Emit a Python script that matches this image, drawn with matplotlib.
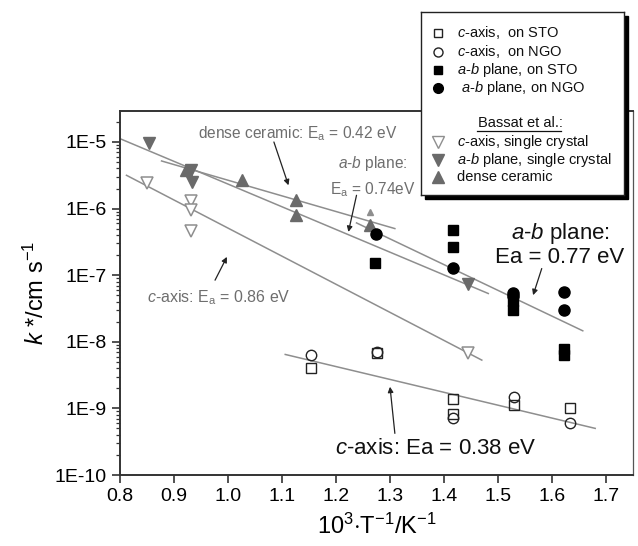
import matplotlib
matplotlib.use("Agg")
import matplotlib.pyplot as plt
from matplotlib.patches import Rectangle
import numpy as np

plt.rcParams['font.family'] = ['Liberation Sans', 'DejaVu Sans']
plt.rcParams['mathtext.fontset'] = 'custom'
plt.rcParams['mathtext.rm'] = 'Liberation Sans'
plt.rcParams['mathtext.it'] = 'Liberation Sans:italic'

# ---------------- data (this work) ----------------
c_sto_x = [1.153, 1.276, 1.417, 1.417, 1.530, 1.633]
c_sto_y = [4.0e-9, 6.9e-9, 1.38e-9, 8.3e-10, 1.12e-9, 1.02e-9]
c_ngo_x = [1.153, 1.276, 1.417, 1.530, 1.633]
c_ngo_y = [6.3e-9, 7.1e-9, 7.3e-10, 1.5e-9, 6.0e-10]
ab_sto_x = [1.272, 1.417, 1.417, 1.527, 1.527, 1.622, 1.622]
ab_sto_y = [1.5e-7, 4.7e-7, 2.66e-7, 4.1e-8, 3.0e-8, 7.7e-9, 6.3e-9]
ab_ngo_x = [1.274, 1.417, 1.527, 1.527, 1.622, 1.622]
ab_ngo_y = [4.2e-7, 1.3e-7, 5.4e-8, 4.8e-8, 5.6e-8, 3.0e-8]

# ---------------- data (Bassat et al.) ----------------
bc_x = [0.850, 0.931, 0.931, 0.931, 1.445]
bc_y = [2.4e-6, 1.29e-6, 0.94e-6, 4.6e-7, 6.7e-9]
bab_x = [0.854, 0.931, 0.933, 1.445]
bab_y = [9.6e-6, 3.85e-6, 2.5e-6, 7.3e-8]
bd_x = [0.922, 1.025, 1.126, 1.126, 1.263]
bd_y = [3.85e-6, 2.66e-6, 1.33e-6, 7.9e-7, 5.7e-7]
bd_small_x = [1.263]
bd_small_y = [8.9e-7]

# ---------------- fit lines (endpoints) ----------------
fit_c086_x = [0.812, 1.470]
fit_c086_y = [10**-5.50, 10**-8.275]
fit_ab074_x = [0.800, 1.482]
fit_ab074_y = [10**-4.95, 10**-7.275]
fit_d042_x = [0.877, 1.309]
fit_d042_y = [10**-5.285, 10**-6.30]
fit_ab077_x = [1.238, 1.657]
fit_ab077_y = [10**-6.215, 10**-7.835]
fit_c038_x = [1.106, 1.680]
fit_c038_y = [10**-8.19, 10**-9.30]

x_ticks = [0.8, 0.9, 1.0, 1.1, 1.2, 1.3, 1.4, 1.5, 1.6, 1.7]
y_ticks = [1e-10, 1e-9, 1e-8, 1e-7, 1e-6, 1e-5]
y_ticklabels = ['1E-10', '1E-9', '1E-8', '1E-7', '1E-6', '1E-5']

GRAY = '#6a6a6a'
LGRAY = '#8e8e8e'
TGRAY = '#6e6e6e'

fig = plt.figure(figsize=(6.38, 5.46), dpi=100)
ax = fig.add_axes([120/638, 71/546, 513/638, 364/546])
ax.set_yscale('log')
ax.set_xlim(0.8, 1.75)
ax.set_ylim(1e-10, 2.92e-5)

# fit lines
for xs, ys in [(fit_c086_x, fit_c086_y), (fit_ab074_x, fit_ab074_y),
               (fit_d042_x, fit_d042_y), (fit_ab077_x, fit_ab077_y),
               (fit_c038_x, fit_c038_y)]:
    ax.plot(xs, ys, color=LGRAY, lw=1.1, zorder=2)

# Bassat
ax.plot(bc_x, bc_y, ls='none', marker='v', ms=8.5, mfc='white', mec=LGRAY, mew=1.1, zorder=3)
ax.plot(bab_x, bab_y, ls='none', marker='v', ms=9, mfc=GRAY, mec=GRAY, zorder=3)
ax.plot(bd_x, bd_y, ls='none', marker='^', ms=9, mfc=GRAY, mec=GRAY, zorder=3)
ax.plot(bd_small_x, bd_small_y, ls='none', marker='^', ms=4, mfc=LGRAY, mec=LGRAY, zorder=3)

# this work
ax.plot(c_sto_x, c_sto_y, ls='none', marker='s', ms=6.5, mfc='none', mec='#222222', mew=1.0, zorder=4)
ax.plot(c_ngo_x, c_ngo_y, ls='none', marker='o', ms=7.5, mfc='none', mec='#222222', mew=1.0, zorder=4)
ax.plot(ab_sto_x, ab_sto_y, ls='none', marker='s', ms=7, mfc='black', mec='black', zorder=4)
ax.plot(ab_ngo_x, ab_ngo_y, ls='none', marker='o', ms=8, mfc='black', mec='black', zorder=4)

# annotations
arr_k = dict(arrowstyle='-|>', color='#222222', lw=0.9, mutation_scale=8, shrinkA=0, shrinkB=0)
ax.annotate('', xy=(1.112, 10**-5.65), xytext=(1.085, 10**-5.0), arrowprops=arr_k)
ax.annotate('', xy=(1.223, 10**-6.35), xytext=(1.238, 10**-5.8), arrowprops=arr_k)
ax.annotate('', xy=(0.998, 10**-6.725), xytext=(0.976, 10**-7.075), arrowprops=arr_k)
ax.annotate('', xy=(1.565, 10**-7.30), xytext=(1.581, 10**-6.90), arrowprops=arr_k)
ax.annotate('', xy=(1.300, 10**-8.675), xytext=(1.309, 10**-9.375), arrowprops=arr_k)

ax.text(1.13, 10**-4.875, r'dense ceramic: E$_\mathrm{a}$ = 0.42 eV', color=TGRAY,
        fontsize=11.2, ha='center', va='center')
ax.text(1.268, 10**-5.32, r'$\mathit{a}$-$\mathit{b}$ plane:', color=TGRAY,
        fontsize=11.2, ha='center', va='center')
ax.text(1.268, 10**-5.71, r'E$_\mathrm{a}$ = 0.74eV', color=TGRAY,
        fontsize=11.2, ha='center', va='center')
ax.text(0.983, 10**-7.33, r'$\mathit{c}$-axis: E$_\mathrm{a}$ = 0.86 eV', color=TGRAY,
        fontsize=11.5, ha='center', va='center')
ax.text(1.615, 10**-6.37, r'$\mathit{a}$-$\mathit{b}$ plane:', color='#111111',
        fontsize=16, ha='center', va='center')
ax.text(1.615, 10**-6.73, 'Ea = 0.77 eV', color='#111111',
        fontsize=16, ha='center', va='center')
ax.text(1.385, 10**-9.6, r'$\mathit{c}$-axis: Ea = 0.38 eV', color='#111111',
        fontsize=16, ha='center', va='center')

# axes styling
ax.set_xticks(x_ticks)
ax.set_xticklabels([f'{v:.1f}' for v in x_ticks])
ax.set_yticks(y_ticks)
ax.set_yticklabels(y_ticklabels)
ax.tick_params(axis='both', which='major', direction='out', length=6, width=1.2,
               labelsize=14, color='#333333')
ax.tick_params(axis='y', which='minor', direction='out', length=3, width=0.9, color='#333333')
ax.tick_params(axis='x', which='minor', length=0)
for side in ['left', 'bottom', 'top']:
    ax.spines[side].set_linewidth(1.4)
    ax.spines[side].set_color('#333333')
ax.spines['right'].set_linewidth(0.9)
ax.spines['right'].set_color('#555555')

ax.set_xlabel(r'10$^{3}$$\cdot$T$^{-1}$/K$^{-1}$', fontsize=17, labelpad=6)
ax.set_ylabel(r'$\mathit{k}$ */cm s$^{-1}$', fontsize=17, labelpad=4)

# ---------------- legend (manual box) ----------------
L0, T0, W, H = 421, 12, 203, 183   # pixel box
shadow = Rectangle(((L0 + 4) / 638, (546 - T0 - H - 4) / 546), W / 638, H / 546,
                   transform=fig.transFigure, facecolor='black', edgecolor='black', zorder=9)
fig.add_artist(shadow)
lax = fig.add_axes([L0 / 638, (546 - T0 - H) / 546, W / 638, H / 546], zorder=10)
lax.set_xlim(0, W)
lax.set_ylim(H, 0)
lax.set_xticks([])
lax.set_yticks([])
for s in lax.spines.values():
    s.set_linewidth(1.0)
    s.set_color('#222222')

legend_rows = [
    (20.7, 's', 'none', '#222222', 6, r'$\mathit{c}$-axis,  on STO', 35.7),
    (39.7, 'o', 'none', '#222222', 6.5, r'$\mathit{c}$-axis,  on NGO', 35.7),
    (58.0, 's', 'black', 'black', 6, r'$\mathit{a}$-$\mathit{b}$ plane, on STO', 35.7),
    (76.0, 'o', 'black', 'black', 7, r'$\mathit{a}$-$\mathit{b}$ plane, on NGO', 39.7),
    (129.7, 'v', 'white', LGRAY, 8, r'$\mathit{c}$-axis, single crystal', 35.7),
    (148.0, 'v', GRAY, GRAY, 8, r'$\mathit{a}$-$\mathit{b}$ plane, single crystal', 35.7),
    (164.7, '^', GRAY, GRAY, 8, 'dense ceramic', 35.7),
]
for yy, mk, fc, ec, ms, label, tx in legend_rows:
    lax.plot([17], [yy], ls='none', marker=mk, ms=ms, mfc=fc, mec=ec, mew=1.0, clip_on=False)
    lax.text(tx, yy, label, fontsize=10.5, ha='left', va='center', color='#111111')
bt = lax.text(99, 111, 'Bassat et al.:', fontsize=10.5, ha='center', va='center', color='#111111')
lax.plot([55.7, 140], [118.5, 118.5], color='#111111', lw=0.9)

fig.savefig('out.png', dpi=100)
